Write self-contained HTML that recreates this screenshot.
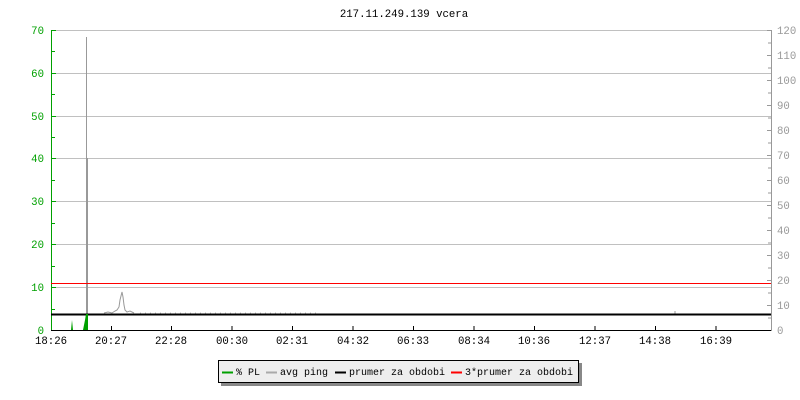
<!DOCTYPE html>
<html><head><style>
body{margin:0;background:#fff;}
svg{display:block;font-family:"Liberation Mono","DejaVu Sans Mono",monospace;font-size:10.7px;}
</style></head><body>
<svg width="800" height="400" xmlns="http://www.w3.org/2000/svg">
<rect width="800" height="400" fill="#fff"/>
<text x="404" y="17" text-anchor="middle" fill="#000">217.11.249.139 vcera</text>
<g stroke="#c0c0c0" stroke-width="1">
<line x1="51" y1="30.5" x2="771" y2="30.5"/>
<line x1="51" y1="73.5" x2="771" y2="73.5"/>
<line x1="51" y1="116.5" x2="771" y2="116.5"/>
<line x1="51" y1="158.5" x2="771" y2="158.5"/>
<line x1="51" y1="201.5" x2="771" y2="201.5"/>
<line x1="51" y1="244.5" x2="771" y2="244.5"/>
<line x1="51" y1="287.5" x2="771" y2="287.5"/>
</g>
<line x1="51.5" y1="30" x2="51.5" y2="331" stroke="#00a000"/>
<g stroke="#00a000">
<line x1="51" y1="30.5" x2="56" y2="30.5"/><line x1="51" y1="51.5" x2="55" y2="51.5"/>
<line x1="51" y1="73.5" x2="56" y2="73.5"/><line x1="51" y1="94.5" x2="55" y2="94.5"/>
<line x1="51" y1="116.5" x2="56" y2="116.5"/><line x1="51" y1="137.5" x2="55" y2="137.5"/>
<line x1="51" y1="158.5" x2="56" y2="158.5"/><line x1="51" y1="180.5" x2="55" y2="180.5"/>
<line x1="51" y1="201.5" x2="56" y2="201.5"/><line x1="51" y1="223.5" x2="55" y2="223.5"/>
<line x1="51" y1="244.5" x2="56" y2="244.5"/><line x1="51" y1="266.5" x2="55" y2="266.5"/>
<line x1="51" y1="287.5" x2="56" y2="287.5"/><line x1="51" y1="309.5" x2="55" y2="309.5"/>
</g>
<g fill="#00a000" text-anchor="end">
<text x="44" y="34">70</text><text x="44" y="77">60</text><text x="44" y="120">50</text>
<text x="44" y="162">40</text><text x="44" y="205">30</text><text x="44" y="248">20</text>
<text x="44" y="291">10</text><text x="44" y="334">0</text>
</g>
<line x1="771.5" y1="30" x2="771.5" y2="331" stroke="#999"/>
<g stroke="#999">
<line x1="767" y1="30.5" x2="771" y2="30.5"/><line x1="768" y1="43" x2="771" y2="43"/>
<line x1="767" y1="55.5" x2="771" y2="55.5"/><line x1="768" y1="68" x2="771" y2="68"/>
<line x1="767" y1="80.5" x2="771" y2="80.5"/><line x1="768" y1="93" x2="771" y2="93"/>
<line x1="767" y1="105.5" x2="771" y2="105.5"/><line x1="768" y1="118" x2="771" y2="118"/>
<line x1="767" y1="130.5" x2="771" y2="130.5"/><line x1="768" y1="143" x2="771" y2="143"/>
<line x1="767" y1="155.5" x2="771" y2="155.5"/><line x1="768" y1="168" x2="771" y2="168"/>
<line x1="767" y1="180.5" x2="771" y2="180.5"/><line x1="768" y1="193" x2="771" y2="193"/>
<line x1="767" y1="205.5" x2="771" y2="205.5"/><line x1="768" y1="218" x2="771" y2="218"/>
<line x1="767" y1="230.5" x2="771" y2="230.5"/><line x1="768" y1="243" x2="771" y2="243"/>
<line x1="767" y1="255.5" x2="771" y2="255.5"/><line x1="768" y1="268" x2="771" y2="268"/>
<line x1="767" y1="280.5" x2="771" y2="280.5"/><line x1="768" y1="293" x2="771" y2="293"/>
<line x1="767" y1="305.5" x2="771" y2="305.5"/><line x1="768" y1="318" x2="771" y2="318"/>
</g>
<g fill="#999">
<text x="777" y="34">120</text><text x="777" y="59">110</text><text x="777" y="84">100</text>
<text x="777" y="109">90</text><text x="777" y="134">80</text><text x="777" y="159">70</text>
<text x="777" y="184">60</text><text x="777" y="209">50</text><text x="777" y="234">40</text>
<text x="777" y="259">30</text><text x="777" y="284">20</text><text x="777" y="309">10</text>
<text x="777" y="334">0</text>
</g>
<g stroke="#999" fill="none">
<line x1="86.5" y1="37" x2="86.5" y2="315" stroke-width="1"/>
<line x1="87" y1="158" x2="87" y2="315" stroke-width="2"/>
<polyline points="104,313 108,312 112,313 115,311 117,310 119,307 120,300 121,296 122,292 123,297 124,305 125,310 127,312 130,311 134,313" stroke-width="1"/>
<line x1="140" y1="313" x2="320" y2="313" stroke="#bbb" stroke-dasharray="1,4"/>
<line x1="675" y1="311" x2="675" y2="314"/>
</g>
<line x1="51" y1="283.5" x2="771" y2="283.5" stroke="#ff0000"/>
<line x1="51" y1="314.5" x2="771" y2="314.5" stroke="#000" stroke-width="2"/>
<polygon points="71,330 72,320 73,330" fill="#00a000"/>
<polygon points="83,330 85,320 86,314 88,314 88,330" fill="#00a000"/>
<line x1="51" y1="330.5" x2="771" y2="330.5" stroke="#000"/>
<g stroke="#000">
<line x1="111.5" y1="326" x2="111.5" y2="330"/><line x1="171.5" y1="326" x2="171.5" y2="330"/>
<line x1="232" y1="326" x2="232" y2="330"/><line x1="292.5" y1="326" x2="292.5" y2="330"/>
<line x1="353" y1="326" x2="353" y2="330"/><line x1="413.5" y1="326" x2="413.5" y2="330"/>
<line x1="474" y1="326" x2="474" y2="330"/><line x1="534.5" y1="326" x2="534.5" y2="330"/>
<line x1="595" y1="326" x2="595" y2="330"/><line x1="655.5" y1="326" x2="655.5" y2="330"/>
<line x1="716" y1="326" x2="716" y2="330"/>
</g>
<g fill="#000" text-anchor="middle">
<text x="51" y="344">18:26</text><text x="111" y="344">20:27</text><text x="171" y="344">22:28</text>
<text x="232" y="344">00:30</text><text x="292" y="344">02:31</text><text x="353" y="344">04:32</text>
<text x="413" y="344">06:33</text><text x="474" y="344">08:34</text><text x="534" y="344">10:36</text>
<text x="595" y="344">12:37</text><text x="655" y="344">14:38</text><text x="716" y="344">16:39</text>
</g>
<rect x="221" y="363" width="361" height="23" fill="#888"/>
<rect x="218.5" y="360.5" width="360" height="22" fill="#eee" stroke="#000"/>
<g style="font-size:10px">
<line x1="222" y1="372.5" x2="233" y2="372.5" stroke="#00a000" stroke-width="2"/>
<text x="236" y="375">% PL</text>
<line x1="266" y1="372.5" x2="277" y2="372.5" stroke="#aaa" stroke-width="2"/>
<text x="280" y="375">avg ping</text>
<line x1="335" y1="372.5" x2="346" y2="372.5" stroke="#000" stroke-width="2"/>
<text x="349" y="375">prumer za obdobi</text>
<line x1="451" y1="372.5" x2="462" y2="372.5" stroke="#f00" stroke-width="2"/>
<text x="465" y="375">3*prumer za obdobi</text>
</g>
</svg>
</body></html>
